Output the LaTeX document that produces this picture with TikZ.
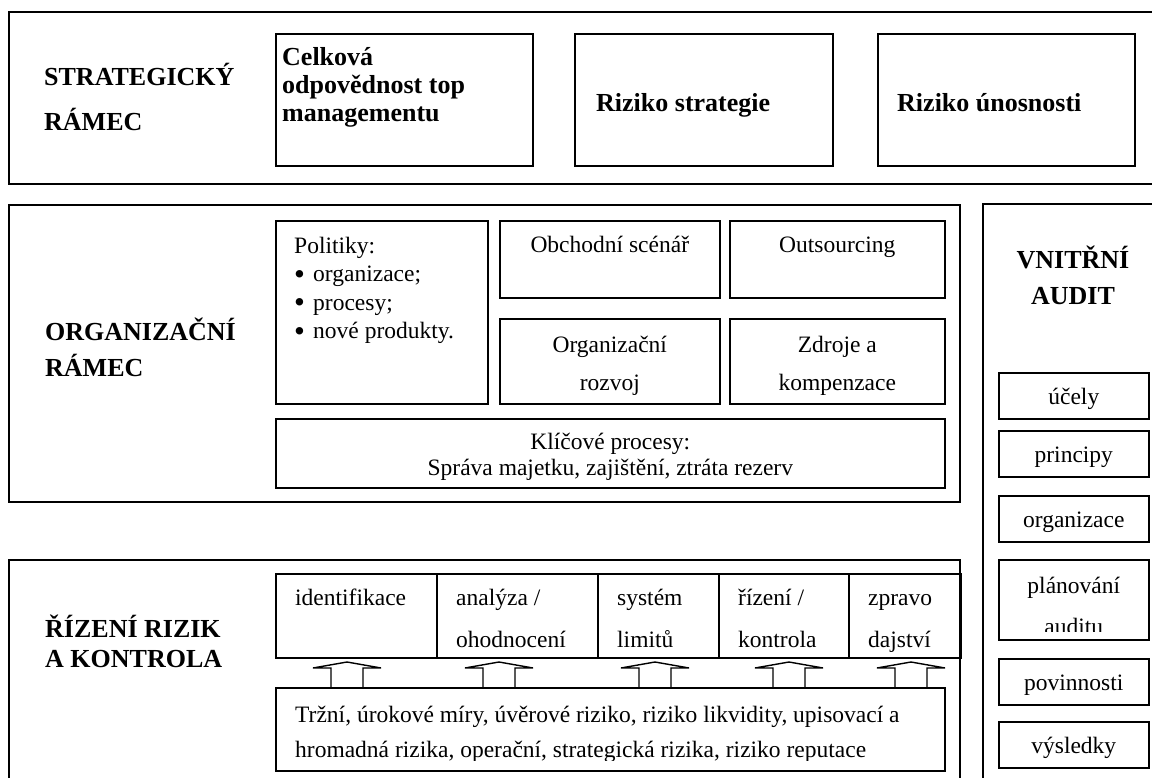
\documentclass[tikz,border=0pt]{standalone}
\usepackage{fontspec}
\setmainfont{Liberation Serif}
\usetikzlibrary{positioning}

% open block arrow standing on the risk box, #1 = x of its tip
\newcommand{\liftarrow}[1]{%
	\draw[outline] (#1-16,0 |- risks.north) -- (#1-16,668) -- (#1-34,668)
		-- (#1,662) -- (#1+34,668) -- (#1+16,668) -- (#1+16,0 |- risks.north);}
% list bullet of the policies box
\newcommand{\dotitem}{\makebox[19pt][l]{\raisebox{-2.5pt}{\fontsize{31}{28}\selectfont\textbullet}}}

\begin{document}
\begin{tikzpicture}[x=1pt,y=-1pt,
		frame/.style={draw, line width=1.8pt},
		box/.style={draw, line width=1.6pt, anchor=north west, inner sep=0pt},
		outline/.style={line width=1.4pt},
		head/.style={font=\fontsize{26}{30}\selectfont\bfseries, align=left, anchor=base west, inner sep=0pt},
		txt/.style={font=\fontsize{23.5}{28}\selectfont, anchor=base west, inner sep=0pt}]
		\clip (0,0) rectangle (1152,778);
		% multi-line nodes below are placed by the baseline of their last line

		% Strategic frame
		\draw[frame] (9,12) rectangle (1170,184);
		\node[head, font=\fontsize{26}{45}\selectfont\bfseries] (strat) at (44,131) {STRATEGICKÝ\\RÁMEC};
		\node[box, minimum width=257, minimum height=132] (topmgmt) at (275,33) {};
		\node[head, font=\fontsize{26}{28}\selectfont\bfseries] (topmgmt-t) at ([shift={(7,89)}]topmgmt.north west) {Celková\\odpovědnost top\\managementu};
		\node[box, minimum width=258, minimum height=132] (strategy) at (574,33) {};
		\node[head] (strategy-t) at ([shift={(22,79)}]strategy.north west) {Riziko strategie};
		\node[box, minimum width=257, minimum height=132] (tolerance) at (877,33) {};
		\node[head] (tolerance-t) at ([shift={(20,79)}]tolerance.north west) {Riziko únosnosti};

		% Organisational frame
		\draw[frame] (9,205) rectangle (960,502);
		\node[head, font=\fontsize{26}{36}\selectfont\bfseries] (org) at (45,376) {ORGANIZAČNÍ\\RÁMEC};
		\node[box, minimum width=212, minimum height=183] (policies) at (275,220) {};
		\node[txt, align=left, font=\fontsize{23.5}{28.5}\selectfont] (policies-t) at ([shift={(19,118.5)}]policies.north west)
			{Politiky:\\\dotitem organizace;\\\dotitem procesy;\\\dotitem nové produkty.};
		\node[box, minimum width=220, minimum height=77] (scenario) at (499,220) {};
		\node[txt, anchor=base] (scenario-t) at ([shift={(0,33)}]scenario.north) {Obchodní scénář};
		\node[box, minimum width=215, minimum height=77] (outsourcing) at (729,220) {};
		\node[txt, anchor=base] (outsourcing-t) at ([shift={(0,33)}]outsourcing.north) {Outsourcing};
		\node[box, minimum width=220, minimum height=85] (orgdev) at (499,318) {};
		\node[box, minimum width=215, minimum height=85] (resources) at (729,318) {};
		\foreach \nm/\lbl in {orgdev/{Organizační\\rozvoj}, resources/{Zdroje a\\kompenzace}} {
			\begin{scope}
				\clip (\nm.north west) rectangle ([yshift=10pt]\nm.south east);
				\node[txt, anchor=base, align=center, font=\fontsize{23.5}{38}\selectfont] (\nm-t) at ([shift={(0,72)}]\nm.north) {\lbl};
			\end{scope}
		}
		\node[box, minimum width=669, minimum height=69] (keyproc) at (275,418) {};
		\node[txt, anchor=base, align=center, font=\fontsize{23.5}{26}\selectfont] (keyproc-t) at ([shift={(0,57)}]keyproc.north)
			{Klíčové procesy:\\Správa majetku, zajištění, ztráta rezerv};

		% Risk management frame
		\draw[frame] (9,560) rectangle (960,800);
		\node[head] (risk) at (45,667) {ŘÍZENÍ RIZIK\\A KONTROLA};
		\foreach \nm/\xa/\bw/\dy/\lbl in {ident/275/161/32/identifikace, analysis/436/161/74/{analýza /\\ohodnocení},
				limits/597/121/74/{systém\\limitů}, control/718/130/74/{řízení /\\kontrola}, reporting/848/112/74/{zpravo\\dajství}} {
			\node[box, minimum width=\bw, minimum height=84] (\nm) at (\xa,573) {};
			\begin{scope}
				\clip (\nm.north west) rectangle ([yshift=7pt]\nm.south east);
				\node[txt, align=left, font=\fontsize{23.5}{42}\selectfont] (\nm-t) at ([shift={(20,\dy)}]\nm.north west) {\lbl};
			\end{scope}
		}
		\node[box, minimum width=669, minimum height=83] (risks) at (275,687) {};
		\begin{scope}
			\clip (risks.north west) rectangle ([yshift=11pt]risks.south east);
			\node[txt, align=left, font=\fontsize{23.5}{35}\selectfont] (risks-t) at ([shift={(20,70)}]risks.north west)
				{Tržní, úrokové míry, úvěrové riziko, riziko likvidity, upisovací a\\hromadná rizika, operační, strategická rizika, riziko reputace};
		\end{scope}
		\foreach \x in {347, 499, 655, 789, 911} {
			\liftarrow{\x}
		}

		% Internal audit frame
		\draw[frame] (983,204) rectangle (1170,800);
		\node[head, anchor=base, align=center, font=\fontsize{26}{36}\selectfont\bfseries] (audit) at (1073,305) {VNITŘNÍ\\AUDIT};
		\foreach \nm/\ya/\lbl in {purpose/372/účely, principles/430/principy, auditorg/495/organizace,
				duties/658/povinnosti, results/721/výsledky} {
			\node[box, minimum width=150, minimum height=46] (\nm) at (998,\ya) {};
			\node[txt, anchor=base] (\nm-t) at ([yshift=-9pt]\nm.center) {\lbl};
		}
		\node[box, minimum width=150, minimum height=80] (planning) at (998,559) {};
		\begin{scope}
			\clip (planning.north west) rectangle ([yshift=9pt]planning.south east);
			\node[txt, anchor=base, align=center, font=\fontsize{23.5}{41}\selectfont] (planning-t) at ([shift={(0,75)}]planning.north) {plánování\\auditu};
		\end{scope}
	\end{tikzpicture}
\end{document}
